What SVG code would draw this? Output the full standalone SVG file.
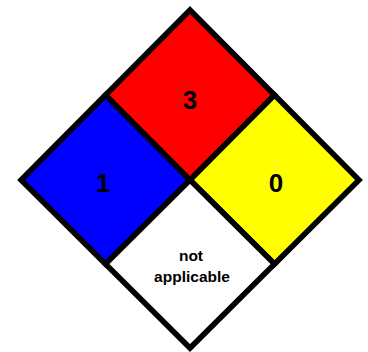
<svg xmlns="http://www.w3.org/2000/svg" width="368" height="352" viewBox="0 0 368 352">
<style>
.q{stroke:#000;stroke-width:5.5;stroke-linejoin:miter}
.n{font-family:"Liberation Sans",Arial,sans-serif;font-weight:bold;font-size:26px;text-anchor:middle;fill:#000}
.s{font-family:"Liberation Sans",Arial,sans-serif;font-weight:bold;font-size:15.5px;text-anchor:middle;fill:#000}
</style>
<rect width="368" height="352" fill="#fff"/>
<g id="health">
<polygon class="q" fill="#0000ff" points="105.5,95 190,180 105.5,264 21,180"/>
<text class="n" x="103" y="192">1</text>
</g>
<g id="flammability">
<polygon class="q" fill="#ff0000" points="190,10 274.5,95 190,180 105.5,95"/>
<text class="n" x="190" y="109">3</text>
</g>
<g id="instability">
<polygon class="q" fill="#ffff00" points="274.5,95 359,180 274.5,264 190,180"/>
<text class="n" x="276" y="192">0</text>
</g>
<g id="special">
<polygon class="q" fill="#ffffff" points="190,180 274.5,264 190,348 105.5,264"/>
<text class="s" x="191" y="261">not</text>
<text class="s" x="192" y="282">applicable</text>
</g>
</svg>
